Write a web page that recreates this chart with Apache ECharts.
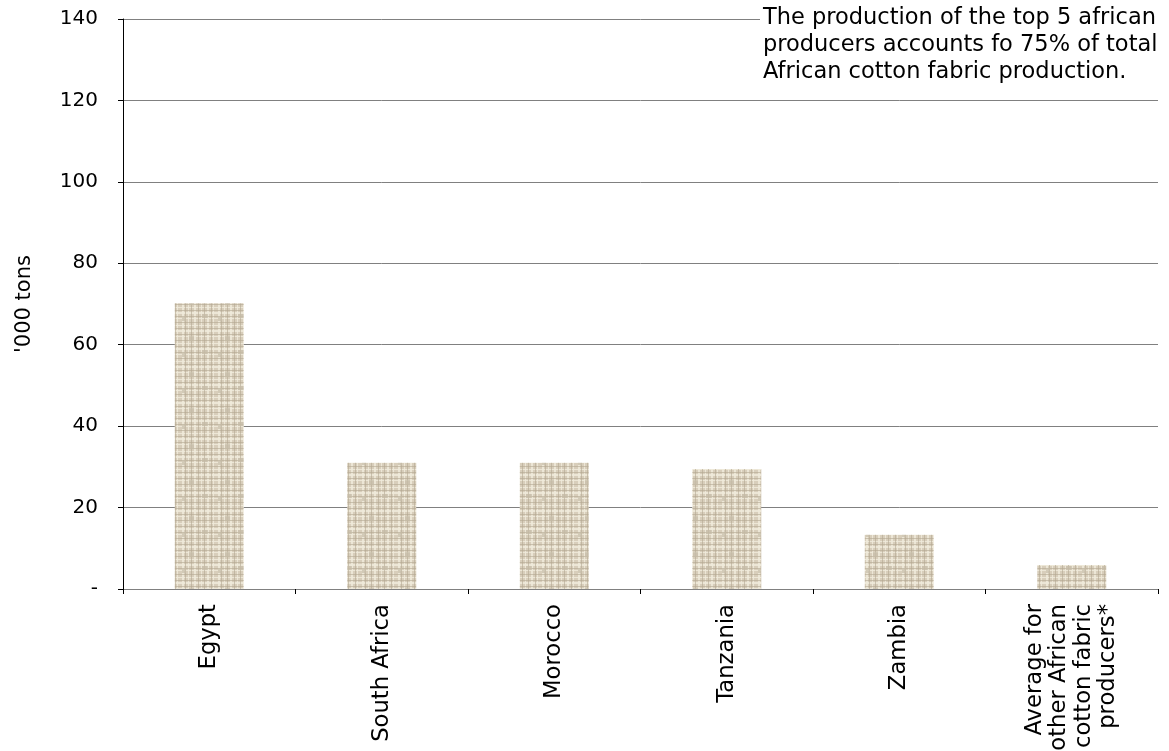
<!DOCTYPE html>
<html><head><meta charset="utf-8">
<script src="https://cdn.jsdelivr.net/npm/echarts@6/dist/echarts.min.js"></script>
<style>html,body{margin:0;padding:0;background:#fff}#c{width:1169px;height:751px}</style>
</head><body><div id="c"></div>
<script>
const categories = ['Egypt','South Africa','Morocco','Tanzania','Zambia','Average for\nother African\ncotton fabric\nproducers*'];
const production = [70.2, 31, 31, 29.5, 13.3, 5.9];
const yTicks = [0,20,40,60,80,100,120,140];
const note = 'The production of the top 5 african\nproducers accounts fo 75% of total\nAfrican cotton fabric production.';

// woven texture for bars (deterministic)
function makePattern(){
  const c = document.createElement('canvas');
  c.width = 36; c.height = 36;
  const g = c.getContext('2d');
  g.fillStyle = '#d8cebb'; g.fillRect(0,0,36,36);
  g.fillStyle = 'rgba(240,234,218,0.85)';
  [2,3,8,14,15,21,27,28,33].forEach(p=>g.fillRect(p,0,1,36));
  [1,6,7,12,19,24,25,30].forEach(p=>g.fillRect(0,p,36,1));
  g.fillStyle = 'rgba(180,168,145,0.6)';
  [5,11,18,24,31].forEach(p=>g.fillRect(p,0,1,36));
  [4,10,16,22,28,34].forEach(p=>g.fillRect(0,p,36,1));
  g.fillStyle = 'rgba(200,190,170,0.7)';
  g.fillRect(9,12,5,5); g.fillRect(22,26,6,4); g.fillRect(2,28,4,5);
  return c;
}
const chart = echarts.init(document.getElementById('c'));
chart.setOption({
  animation:false,
  grid:{left:123,right:11,top:19,bottom:162,containLabel:false,outerBoundsMode:'none'},
  xAxis:{type:'category',data:categories,
    axisLine:{lineStyle:{color:'#808080',width:1}},
    axisTick:{show:true,length:5,lineStyle:{color:'#000'}},
    axisLabel:{rotate:90,fontFamily:'DejaVu Sans',fontSize:22.7,color:'#000',margin:15,interval:0,lineHeight:24.5,align:'right'}
  },
  yAxis:{type:'value',min:0,max:140,interval:20,
    name:"'000 tons",nameLocation:'middle',nameGap:88,nameRotate:90,
    nameTextStyle:{fontFamily:'DejaVu Sans',fontSize:21,color:'#000'},
    axisLine:{show:true,lineStyle:{color:'#000',width:1}},
    axisTick:{show:true,length:5,lineStyle:{color:'#000'}},
    axisLabel:{fontFamily:'DejaVu Sans',fontSize:20,color:'#000',margin:25,
      formatter:v=> yTicks.includes(v) ? (v===0?'-':String(v)) : ''},
    splitLine:{lineStyle:{color:'#808080',width:1}}
  },
  series:[{type:'bar',data:production,barWidth:'40%',
    itemStyle:{color:{image:makePattern(),repeat:'repeat'}}}],
  graphic:[{type:'text',left:760,top:5,z:100,
    style:{text:note,fontFamily:'DejaVu Sans',fontSize:22.5,lineHeight:27,fill:'#000',
      backgroundColor:'#fff',padding:[0,2,0,3]}}]
});
</script></body></html>
